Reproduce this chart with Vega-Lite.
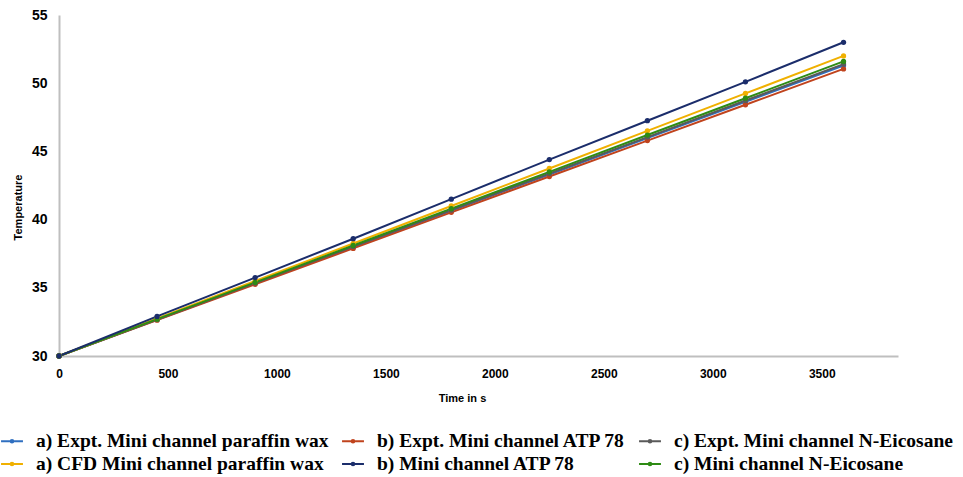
{
  "$schema": "https://vega.github.io/schema/vega-lite/v6.json",
  "autosize": "none",
  "width": 839,
  "height": 341,
  "padding": {"left": 59, "top": 15, "right": 65, "bottom": 121},
  "background": "white",
  "config": {"view": {"stroke": null}},
  "data": {"values": [
    {"t": 0, "temp": 30, "s": "a) Expt. Mini channel paraffin wax"},
    {"t": 450, "temp": 32.66, "s": "a) Expt. Mini channel paraffin wax"},
    {"t": 900, "temp": 35.33, "s": "a) Expt. Mini channel paraffin wax"},
    {"t": 1350, "temp": 37.99, "s": "a) Expt. Mini channel paraffin wax"},
    {"t": 1800, "temp": 40.65, "s": "a) Expt. Mini channel paraffin wax"},
    {"t": 2250, "temp": 43.31, "s": "a) Expt. Mini channel paraffin wax"},
    {"t": 2700, "temp": 45.98, "s": "a) Expt. Mini channel paraffin wax"},
    {"t": 3150, "temp": 48.64, "s": "a) Expt. Mini channel paraffin wax"},
    {"t": 3600, "temp": 51.3, "s": "a) Expt. Mini channel paraffin wax"},
    {"t": 0, "temp": 30, "s": "b) Expt. Mini channel ATP 78"},
    {"t": 450, "temp": 32.63, "s": "b) Expt. Mini channel ATP 78"},
    {"t": 900, "temp": 35.26, "s": "b) Expt. Mini channel ATP 78"},
    {"t": 1350, "temp": 37.89, "s": "b) Expt. Mini channel ATP 78"},
    {"t": 1800, "temp": 40.53, "s": "b) Expt. Mini channel ATP 78"},
    {"t": 2250, "temp": 43.16, "s": "b) Expt. Mini channel ATP 78"},
    {"t": 2700, "temp": 45.79, "s": "b) Expt. Mini channel ATP 78"},
    {"t": 3150, "temp": 48.42, "s": "b) Expt. Mini channel ATP 78"},
    {"t": 3600, "temp": 51.05, "s": "b) Expt. Mini channel ATP 78"},
    {"t": 0, "temp": 30, "s": "c) Expt. Mini channel N-Eicosane"},
    {"t": 450, "temp": 32.68, "s": "c) Expt. Mini channel N-Eicosane"},
    {"t": 900, "temp": 35.35, "s": "c) Expt. Mini channel N-Eicosane"},
    {"t": 1350, "temp": 38.03, "s": "c) Expt. Mini channel N-Eicosane"},
    {"t": 1800, "temp": 40.7, "s": "c) Expt. Mini channel N-Eicosane"},
    {"t": 2250, "temp": 43.38, "s": "c) Expt. Mini channel N-Eicosane"},
    {"t": 2700, "temp": 46.05, "s": "c) Expt. Mini channel N-Eicosane"},
    {"t": 3150, "temp": 48.73, "s": "c) Expt. Mini channel N-Eicosane"},
    {"t": 3600, "temp": 51.4, "s": "c) Expt. Mini channel N-Eicosane"},
    {"t": 0, "temp": 30, "s": "a) CFD Mini channel paraffin wax"},
    {"t": 450, "temp": 32.75, "s": "a) CFD Mini channel paraffin wax"},
    {"t": 900, "temp": 35.5, "s": "a) CFD Mini channel paraffin wax"},
    {"t": 1350, "temp": 38.25, "s": "a) CFD Mini channel paraffin wax"},
    {"t": 1800, "temp": 41.0, "s": "a) CFD Mini channel paraffin wax"},
    {"t": 2250, "temp": 43.75, "s": "a) CFD Mini channel paraffin wax"},
    {"t": 2700, "temp": 46.5, "s": "a) CFD Mini channel paraffin wax"},
    {"t": 3150, "temp": 49.25, "s": "a) CFD Mini channel paraffin wax"},
    {"t": 3600, "temp": 52.0, "s": "a) CFD Mini channel paraffin wax"},
    {"t": 0, "temp": 30, "s": "c) Mini channel N-Eicosane"},
    {"t": 450, "temp": 32.7, "s": "c) Mini channel N-Eicosane"},
    {"t": 900, "temp": 35.4, "s": "c) Mini channel N-Eicosane"},
    {"t": 1350, "temp": 38.1, "s": "c) Mini channel N-Eicosane"},
    {"t": 1800, "temp": 40.8, "s": "c) Mini channel N-Eicosane"},
    {"t": 2250, "temp": 43.5, "s": "c) Mini channel N-Eicosane"},
    {"t": 2700, "temp": 46.2, "s": "c) Mini channel N-Eicosane"},
    {"t": 3150, "temp": 48.9, "s": "c) Mini channel N-Eicosane"},
    {"t": 3600, "temp": 51.6, "s": "c) Mini channel N-Eicosane"},
    {"t": 0, "temp": 30, "s": "b) Mini channel ATP 78"},
    {"t": 450, "temp": 32.9, "s": "b) Mini channel ATP 78"},
    {"t": 900, "temp": 35.75, "s": "b) Mini channel ATP 78"},
    {"t": 1350, "temp": 38.6, "s": "b) Mini channel ATP 78"},
    {"t": 1800, "temp": 41.5, "s": "b) Mini channel ATP 78"},
    {"t": 2250, "temp": 44.4, "s": "b) Mini channel ATP 78"},
    {"t": 2700, "temp": 47.25, "s": "b) Mini channel ATP 78"},
    {"t": 3150, "temp": 50.1, "s": "b) Mini channel ATP 78"},
    {"t": 3600, "temp": 53.0, "s": "b) Mini channel ATP 78"}
  ]},
  "mark": {"type": "line", "strokeWidth": 2, "point": {"filled": true, "size": 28}},
  "encoding": {
    "x": {
      "field": "t", "type": "quantitative",
      "scale": {"domain": [0, 3850], "nice": false, "zero": true},
      "axis": {
        "title": "Time in s", "values": [0, 500, 1000, 1500, 2000, 2500, 3000, 3500], "format": "d",
        "grid": false, "ticks": false, "domainColor": "#bfbfbf", "domainWidth": 2,
        "labelFont": "Liberation Sans", "labelFontSize": 12, "labelFontWeight": "bold", "labelColor": "#000000",
        "labelPadding": 12, "labelFlush": false,
        "titleFont": "Liberation Sans", "titleFontSize": 11, "titleFontWeight": "bold", "titleColor": "#000000",
        "titleX": 403, "titleY": 42, "titleBaseline": "middle"
      }
    },
    "y": {
      "field": "temp", "type": "quantitative",
      "scale": {"domain": [30, 55], "nice": false, "zero": false},
      "axis": {
        "title": "Temperature", "values": [30, 35, 40, 45, 50, 55],
        "grid": false, "ticks": false, "domainColor": "#bfbfbf", "domainWidth": 2,
        "labelFont": "Liberation Sans", "labelFontSize": 14, "labelFontWeight": "bold", "labelColor": "#000000",
        "labelPadding": 12, "labelFlush": false,
        "titleFont": "Liberation Sans", "titleFontSize": 11, "titleFontWeight": "bold", "titleColor": "#000000",
        "titleX": -41, "titleY": 192, "titleBaseline": "middle", "titleAngle": -90
      }
    },
    "color": {
      "field": "s", "type": "nominal",
      "scale": {
        "domain": ["a) Expt. Mini channel paraffin wax", "b) Expt. Mini channel ATP 78", "c) Expt. Mini channel N-Eicosane", "a) CFD Mini channel paraffin wax", "b) Mini channel ATP 78", "c) Mini channel N-Eicosane"],
        "range": ["#2f6fc0", "#c0431d", "#5a5a5a", "#f0b000", "#1b2d6b", "#2e8b14"]
      },
      "legend": {
        "title": null, "orient": "none", "legendX": -59, "legendY": 414,
        "direction": "horizontal", "columns": 3, "columnPadding": 9, "rowPadding": 1,
        "symbolType": "M-1,0L1,0M0.12,0A0.12,0.12,0,1,1,-0.12,0A0.12,0.12,0,1,1,0.12,0",
        "symbolSize": 480, "symbolStrokeWidth": 2, "labelOffset": 12,
        "labelFont": "Liberation Serif", "labelFontSize": 19.5, "labelFontWeight": "bold", "labelColor": "#000000",
        "labelLimit": 500
      }
    },
    "order": {"field": "t", "type": "quantitative"}
  }
}
